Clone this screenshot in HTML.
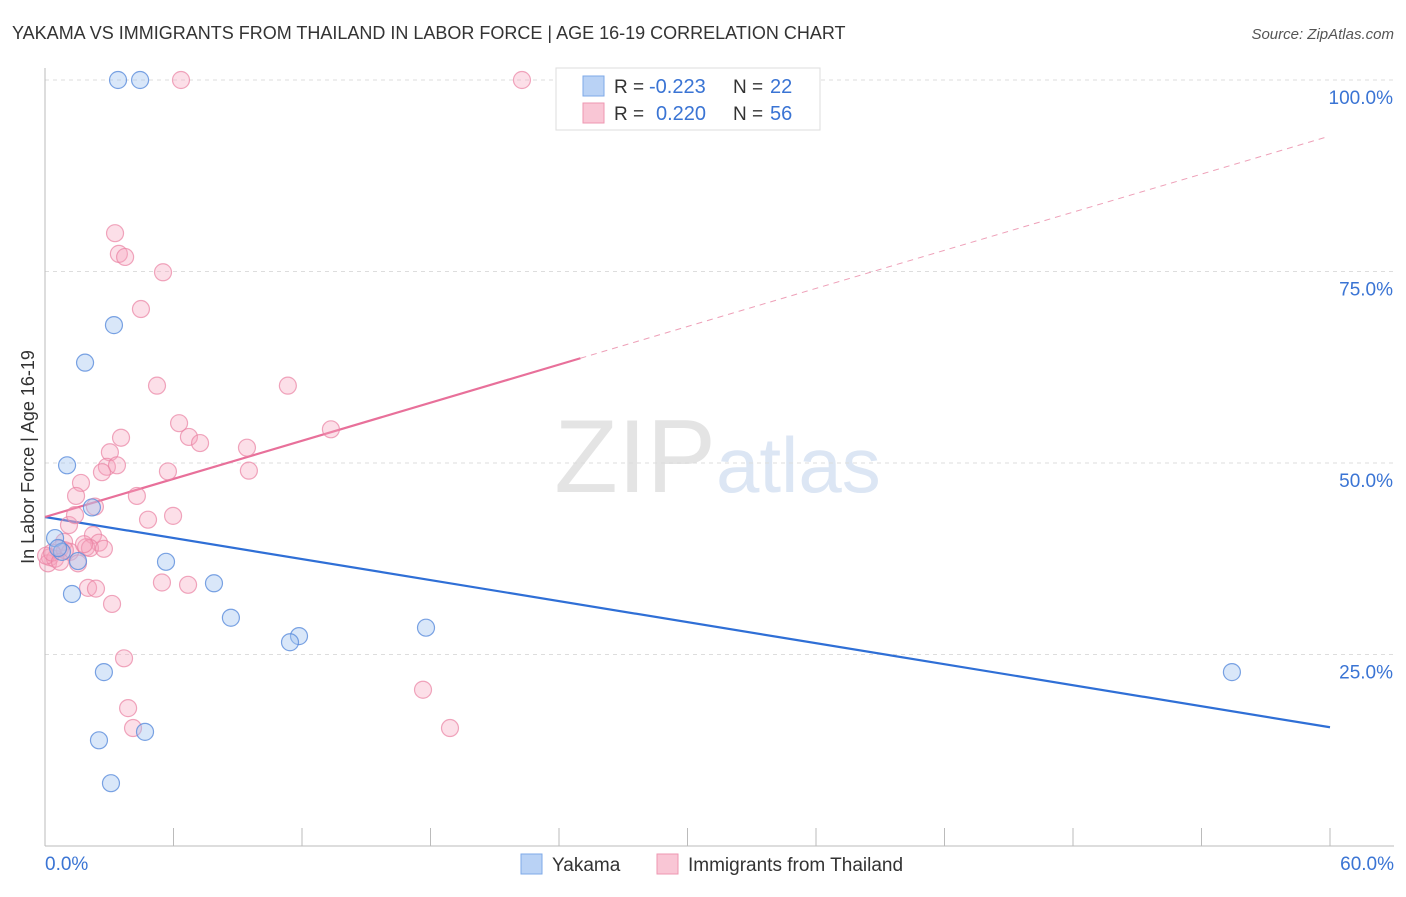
<!DOCTYPE html>
<html><head><meta charset="utf-8"><style>
body{margin:0;background:#fff;font-family:"Liberation Sans",sans-serif;}
svg text{font-family:"Liberation Sans",sans-serif;}
</style></head><body>
<svg id="chart" width="1406" height="892" xmlns="http://www.w3.org/2000/svg">
<text x="12" y="39" font-size="18" fill="#333">YAKAMA VS IMMIGRANTS FROM THAILAND IN LABOR FORCE | AGE 16-19 CORRELATION CHART</text>
<text x="1394" y="39" font-size="15" fill="#555" font-style="italic" text-anchor="end">Source: ZipAtlas.com</text>
<text x="716" y="492" font-size="104" fill="#e4e4e4" text-anchor="end" font-family="Liberation Serif">ZIP</text>
<text x="716" y="492" font-size="78" fill="#dce6f4">atlas</text>
<g id="grid"></g><g id="axes"></g><g id="lines"></g><g id="points"></g>
<text transform="translate(34,457) rotate(-90)" font-size="18" fill="#333" text-anchor="middle">In Labor Force | Age 16-19</text>
<g>
<rect x="556" y="68" width="264" height="62" fill="#fff" stroke="#ddd"/>
<rect x="583" y="76" width="21" height="20" fill="#b9d2f5" stroke="#7ea9e8"/>
<rect x="583" y="103" width="21" height="20" fill="#f9c6d5" stroke="#ee97b1"/>
<text x="614" y="93" font-size="19" fill="#333">R =</text>
<text x="649" y="93" font-size="20" fill="#3a74d4">-0.223</text>
<text x="733" y="93" font-size="19" fill="#333">N =</text>
<text x="770" y="93" font-size="20" fill="#3a74d4">22</text>
<text x="614" y="120" font-size="19" fill="#333">R =</text>
<text x="656" y="120" font-size="20" fill="#3a74d4">0.220</text>
<text x="733" y="120" font-size="19" fill="#333">N =</text>
<text x="770" y="120" font-size="20" fill="#3a74d4">56</text>
</g>
<g>
<rect x="521" y="854" width="21" height="20" fill="#b9d2f5" stroke="#7ea9e8"/>
<text x="552" y="871" font-size="19" fill="#333">Yakama</text>
<rect x="657" y="854" width="21" height="20" fill="#f9c6d5" stroke="#ee97b1"/>
<text x="688" y="871" font-size="19" fill="#333">Immigrants from Thailand</text>
</g>
</svg>
<script>
const yakamaX=[3.41,4.44,3.22,1.87,1.03,2.19,0.47,0.79,0.61,5.65,7.89,1.26,8.68,11.86,11.44,17.79,2.75,55.42,2.52,4.67,3.08,1.54];
const yakamaY=[100,100,68.0,63.1,49.7,44.2,40.2,38.4,38.9,37.1,34.3,32.9,29.8,27.4,26.6,28.5,22.7,22.7,13.8,14.9,8.2,37.2];
const thaiX=[6.35,22.27,3.27,3.45,3.74,5.51,4.48,5.23,11.34,6.26,13.35,3.55,6.72,7.24,9.43,3.03,2.89,3.36,2.66,5.74,9.52,1.68,1.45,4.29,2.33,4.81,5.98,1.12,1.40,2.24,0.89,2.52,1.92,2.10,2.75,0.70,1.17,0.23,0.14,0.47,1.54,5.46,6.68,2.01,2.38,3.13,3.69,3.88,4.11,17.65,18.91,0.93,0.05,0.33,1.82,0.70];
const thaiY=[100,100,80.0,77.3,76.9,74.9,70.1,60.1,60.1,55.2,54.4,53.3,53.4,52.6,52.0,51.4,49.5,49.7,48.8,48.9,49.0,47.4,45.7,45.7,44.3,42.6,43.1,41.9,43.2,40.6,39.7,39.6,39.0,38.9,38.8,38.8,38.4,37.7,36.9,37.5,36.9,34.4,34.1,33.7,33.6,31.6,24.5,18.0,15.4,20.4,15.4,38.6,37.9,38.3,39.4,37.1];
const xTicks=[0,60];
const yTicks=[25,50,75,100];
const yakamaFit=[42.95,15.5];
const thaiFit=[42.95,0.829];
const X=v=>45+v/60*1285, Y=v=>846-v/100*766;
const NS='http://www.w3.org/2000/svg';
function mk(p,tag,a){const e=document.createElementNS(NS,tag);for(const k in a)e.setAttribute(k,a[k]);document.getElementById(p).appendChild(e);return e;}
yTicks.forEach(t=>{
 const g=mk('grid','line',{x1:45,x2:1394,y1:Y(t),y2:Y(t),stroke:'#ddd','stroke-dasharray':'4,4'});
 
 
 const tx=mk('grid','text',{x:1393,y:Y(t)+24,'font-size':19,fill:'#3a74d4','text-anchor':'end'});
 tx.textContent=t.toFixed(1)+'%';
 
 
});
const ax=mk('axes','line',{x1:45,x2:45,y1:68,y2:846,stroke:'#bbb'});


const bx=mk('axes','line',{x1:45,x2:1394,y1:846,y2:846,stroke:'#bbb'});


for(let i=1;i<=10;i++){const tk=mk('axes','line',{x1:X(i*6),x2:X(i*6),y1:828,y2:846,stroke:'#bbb'});
 
 }
xTicks.forEach((t,i)=>{const tx=mk('axes','text',{x:i?1394:45,y:870,'font-size':19,fill:'#3a74d4','text-anchor':i?'end':'start'});
 tx.textContent=t.toFixed(1)+'%';
 
 });
thaiX.forEach((x,i)=>{const c=mk('points','circle',{cx:X(x),cy:Y(thaiY[i]),r:8.5,fill:'rgba(246,164,190,0.35)',stroke:'rgba(234,130,162,0.7)','stroke-width':1.2});
 
 });
yakamaX.forEach((x,i)=>{const c=mk('points','circle',{cx:X(x),cy:Y(yakamaY[i]),r:8.5,fill:'rgba(160,195,240,0.4)',stroke:'rgba(90,140,220,0.8)','stroke-width':1.2});
 
 });
const bl=mk('lines','line',{x1:X(0),y1:Y(yakamaFit[0]),x2:X(60),y2:Y(yakamaFit[1]),stroke:'#2f6fd6','stroke-width':2.2});


const pl=mk('lines','line',{x1:X(0),y1:Y(thaiFit[0]),x2:X(25),y2:Y(thaiFit[0]+thaiFit[1]*25),stroke:'#e8709a','stroke-width':2.2});


const pd=mk('lines','line',{x1:X(25),y1:Y(thaiFit[0]+thaiFit[1]*25),x2:X(59.8),y2:Y(thaiFit[0]+thaiFit[1]*59.8),stroke:'#eea0b8','stroke-width':1,'stroke-dasharray':'6,5'});


</script>
</body></html>
